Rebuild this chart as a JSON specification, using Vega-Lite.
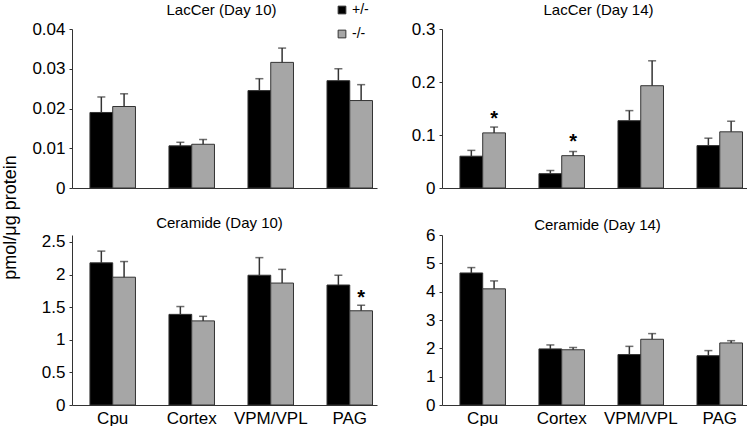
{
  "$schema": "https://vega.github.io/schema/vega-lite/v6.json",
  "padding": {"left": 1, "right": 0, "top": 2, "bottom": 0},
  "background": "white",
  "config": {
    "font": "Liberation Sans",
    "view": {"stroke": null},
    "axis": {"labelFont": "Liberation Sans", "labelFontSize": 17, "labelColor": "#000", "labelOverlap": false, "domainColor": "#333", "domainWidth": 1, "tickColor": "#333", "grid": false, "title": null},
    "title": {"font": "Liberation Sans", "fontSize": 15, "fontWeight": "normal", "color": "#000", "frame": "group", "baseline": "alphabetic"},
    "legend": {"labelFont": "Liberation Sans", "labelFontSize": 14, "labelColor": "#000", "symbolType": "square", "symbolSize": 60, "symbolStrokeColor": "#333", "symbolStrokeWidth": 1, "rowPadding": 10, "labelOffset": 3, "title": null}
  },
  "datasets": {
    "d": [
      {"panel": "p1", "region": "Cpu", "geno": "+/-", "value": 0.0190, "err": 0.0229, "star": null},
      {"panel": "p1", "region": "Cpu", "geno": "-/-", "value": 0.0205, "err": 0.0237, "star": null},
      {"panel": "p1", "region": "Cortex", "geno": "+/-", "value": 0.0106, "err": 0.0115, "star": null},
      {"panel": "p1", "region": "Cortex", "geno": "-/-", "value": 0.0110, "err": 0.0122, "star": null},
      {"panel": "p1", "region": "VPM/VPL", "geno": "+/-", "value": 0.0245, "err": 0.0275, "star": null},
      {"panel": "p1", "region": "VPM/VPL", "geno": "-/-", "value": 0.0316, "err": 0.0352, "star": null},
      {"panel": "p1", "region": "PAG", "geno": "+/-", "value": 0.0270, "err": 0.0300, "star": null},
      {"panel": "p1", "region": "PAG", "geno": "-/-", "value": 0.0220, "err": 0.0260, "star": null},
      {"panel": "p2", "region": "Cpu", "geno": "+/-", "value": 0.060, "err": 0.071, "star": null},
      {"panel": "p2", "region": "Cpu", "geno": "-/-", "value": 0.104, "err": 0.115, "star": 0.140},
      {"panel": "p2", "region": "Cortex", "geno": "+/-", "value": 0.027, "err": 0.033, "star": null},
      {"panel": "p2", "region": "Cortex", "geno": "-/-", "value": 0.061, "err": 0.069, "star": 0.097},
      {"panel": "p2", "region": "VPM/VPL", "geno": "+/-", "value": 0.127, "err": 0.146, "star": null},
      {"panel": "p2", "region": "VPM/VPL", "geno": "-/-", "value": 0.193, "err": 0.240, "star": null},
      {"panel": "p2", "region": "PAG", "geno": "+/-", "value": 0.080, "err": 0.094, "star": null},
      {"panel": "p2", "region": "PAG", "geno": "-/-", "value": 0.106, "err": 0.126, "star": null},
      {"panel": "p3", "region": "Cpu", "geno": "+/-", "value": 2.18, "err": 2.36, "star": null},
      {"panel": "p3", "region": "Cpu", "geno": "-/-", "value": 1.96, "err": 2.20, "star": null},
      {"panel": "p3", "region": "Cortex", "geno": "+/-", "value": 1.39, "err": 1.51, "star": null},
      {"panel": "p3", "region": "Cortex", "geno": "-/-", "value": 1.29, "err": 1.36, "star": null},
      {"panel": "p3", "region": "VPM/VPL", "geno": "+/-", "value": 1.99, "err": 2.26, "star": null},
      {"panel": "p3", "region": "VPM/VPL", "geno": "-/-", "value": 1.87, "err": 2.08, "star": null},
      {"panel": "p3", "region": "PAG", "geno": "+/-", "value": 1.84, "err": 1.99, "star": null},
      {"panel": "p3", "region": "PAG", "geno": "-/-", "value": 1.445, "err": 1.53, "star": 1.71},
      {"panel": "p4", "region": "Cpu", "geno": "+/-", "value": 4.66, "err": 4.85, "star": null},
      {"panel": "p4", "region": "Cpu", "geno": "-/-", "value": 4.10, "err": 4.38, "star": null},
      {"panel": "p4", "region": "Cortex", "geno": "+/-", "value": 1.98, "err": 2.12, "star": null},
      {"panel": "p4", "region": "Cortex", "geno": "-/-", "value": 1.95, "err": 2.03, "star": null},
      {"panel": "p4", "region": "VPM/VPL", "geno": "+/-", "value": 1.78, "err": 2.07, "star": null},
      {"panel": "p4", "region": "VPM/VPL", "geno": "-/-", "value": 2.32, "err": 2.52, "star": null},
      {"panel": "p4", "region": "PAG", "geno": "+/-", "value": 1.74, "err": 1.92, "star": null},
      {"panel": "p4", "region": "PAG", "geno": "-/-", "value": 2.19, "err": 2.27, "star": null}
    ]
  },
  "data": {"name": "d"},
  "columns": 2,
  "bounds": "flush",
  "spacing": {"row": 47, "column": 65},
  "resolve": {"scale": {"y": "independent"}},
  "concat": [
    {
      "title": {"text": "LacCer (Day 10)", "offset": 2.5, "dx": -3},
      "width": 305, "height": 159,
      "transform": [{"filter": "datum.panel === 'p1'"}],
      "encoding": {
        "x": {"field": "region", "type": "nominal", "sort": ["Cpu", "Cortex", "VPM/VPL", "PAG"], "scale": {"paddingInner": 0.424, "paddingOuter": 0.142, "align": 0.8}, "axis": {"labels": false, "ticks": false}},
        "xOffset": {"field": "geno", "type": "nominal", "sort": ["+/-", "-/-"], "scale": {"paddingInner": 0, "paddingOuter": 0}}
      },
      "layer": [
        {"mark": {"type": "bar", "stroke": "#333", "strokeWidth": 1},
         "encoding": {
           "y": {"field": "value", "type": "quantitative", "scale": {"domain": [0, 0.04], "nice": false}, "axis": {"values": [0, 0.01, 0.02, 0.03, 0.04], "labelOverlap": false, "format": "~g", "tickSize": 3, "labelPadding": 4, "title": "pmol/μg protein", "titleX": -53, "titleY": 188, "titleFont": "Liberation Sans", "titleFontSize": 18, "titleFontWeight": "normal", "titleColor": "#000", "titleAngle": 270, "titleAlign": "center", "titleBaseline": "bottom"}},
           "color": {"field": "geno", "type": "nominal", "sort": ["+/-", "-/-"], "scale": {"domain": ["+/-", "-/-"], "range": ["#000000", "#a6a6a6"]}, "legend": {"orient": "none", "legendX": 263, "legendY": -26}}
         }},
        {"mark": {"type": "rule", "color": "#333", "strokeWidth": 1.5}, "encoding": {"y": {"field": "value", "type": "quantitative", "axis": {"values": [0, 0.01, 0.02, 0.03, 0.04], "labelOverlap": false}}, "y2": {"field": "err"}}},
        {"mark": {"type": "tick", "color": "#333", "thickness": 1.5, "size": 8}, "encoding": {"y": {"field": "err", "type": "quantitative", "axis": {"values": [0, 0.01, 0.02, 0.03, 0.04], "labelOverlap": false}}}}
      ]
    },
    {
      "title": {"text": "LacCer (Day 14)", "offset": 2.5, "dx": 4},
      "width": 305, "height": 159,
      "transform": [{"filter": "datum.panel === 'p2'"}],
      "encoding": {
        "x": {"field": "region", "type": "nominal", "sort": ["Cpu", "Cortex", "VPM/VPL", "PAG"], "scale": {"paddingInner": 0.424, "paddingOuter": 0.142, "align": 0.8}, "axis": {"labels": false, "ticks": false}},
        "xOffset": {"field": "geno", "type": "nominal", "sort": ["+/-", "-/-"], "scale": {"paddingInner": 0, "paddingOuter": 0}}
      },
      "layer": [
        {"mark": {"type": "bar", "stroke": "#333", "strokeWidth": 1},
         "encoding": {
           "y": {"field": "value", "type": "quantitative", "scale": {"domain": [0, 0.3], "nice": false}, "axis": {"values": [0, 0.1, 0.2, 0.3], "labelOverlap": false, "format": "~g", "tickSize": 3, "labelPadding": 4}},
           "color": {"field": "geno", "type": "nominal", "sort": ["+/-", "-/-"], "scale": {"domain": ["+/-", "-/-"], "range": ["#000000", "#a6a6a6"]}, "legend": {"orient": "none", "legendX": 263, "legendY": -26}}
         }},
        {"mark": {"type": "rule", "color": "#333", "strokeWidth": 1.5}, "encoding": {"y": {"field": "value", "type": "quantitative", "axis": {"values": [0, 0.1, 0.2, 0.3], "labelOverlap": false}}, "y2": {"field": "err"}}},
        {"mark": {"type": "tick", "color": "#333", "thickness": 1.5, "size": 8}, "encoding": {"y": {"field": "err", "type": "quantitative", "axis": {"values": [0, 0.1, 0.2, 0.3], "labelOverlap": false}}}},
        {"mark": {"type": "text", "text": "*", "fontSize": 20, "fontWeight": "bold", "color": "#000", "baseline": "alphabetic", "dy": 11}, "encoding": {"y": {"field": "star", "type": "quantitative", "axis": {"values": [0, 0.1, 0.2, 0.3], "labelOverlap": false}}}}
      ]
    },
    {
      "title": {"text": "Ceramide (Day 10)", "offset": 2, "dx": -5},
      "width": 305, "height": 170,
      "transform": [{"filter": "datum.panel === 'p3'"}],
      "encoding": {
        "x": {"field": "region", "type": "nominal", "sort": ["Cpu", "Cortex", "VPM/VPL", "PAG"], "scale": {"paddingInner": 0.424, "paddingOuter": 0.142, "align": 0.8}, "axis": {"labels": true, "ticks": false, "labelAngle": 0, "labelPadding": 5}},
        "xOffset": {"field": "geno", "type": "nominal", "sort": ["+/-", "-/-"], "scale": {"paddingInner": 0, "paddingOuter": 0}}
      },
      "layer": [
        {"mark": {"type": "bar", "stroke": "#333", "strokeWidth": 1},
         "encoding": {
           "y": {"field": "value", "type": "quantitative", "scale": {"domain": [0, 2.607], "nice": false}, "axis": {"values": [0, 0.5, 1, 1.5, 2, 2.5], "labelOverlap": false, "format": "~g", "tickSize": 3, "labelPadding": 4}},
           "color": {"field": "geno", "type": "nominal", "sort": ["+/-", "-/-"], "scale": {"domain": ["+/-", "-/-"], "range": ["#000000", "#a6a6a6"]}, "legend": {"orient": "none", "legendX": 263, "legendY": -26}}
         }},
        {"mark": {"type": "rule", "color": "#333", "strokeWidth": 1.5}, "encoding": {"y": {"field": "value", "type": "quantitative", "axis": {"values": [0, 0.5, 1, 1.5, 2, 2.5], "labelOverlap": false}}, "y2": {"field": "err"}}},
        {"mark": {"type": "tick", "color": "#333", "thickness": 1.5, "size": 8}, "encoding": {"y": {"field": "err", "type": "quantitative", "axis": {"values": [0, 0.5, 1, 1.5, 2, 2.5], "labelOverlap": false}}}},
        {"mark": {"type": "text", "text": "*", "fontSize": 20, "fontWeight": "bold", "color": "#000", "baseline": "alphabetic", "dy": 11}, "encoding": {"y": {"field": "star", "type": "quantitative", "axis": {"values": [0, 0.5, 1, 1.5, 2, 2.5], "labelOverlap": false}}}}
      ]
    },
    {
      "title": {"text": "Ceramide (Day 14)", "offset": -7, "dx": 3},
      "width": 305, "height": 170,
      "transform": [{"filter": "datum.panel === 'p4'"}],
      "encoding": {
        "x": {"field": "region", "type": "nominal", "sort": ["Cpu", "Cortex", "VPM/VPL", "PAG"], "scale": {"paddingInner": 0.424, "paddingOuter": 0.142, "align": 0.8}, "axis": {"labels": true, "ticks": false, "labelAngle": 0, "labelPadding": 5}},
        "xOffset": {"field": "geno", "type": "nominal", "sort": ["+/-", "-/-"], "scale": {"paddingInner": 0, "paddingOuter": 0}}
      },
      "layer": [
        {"mark": {"type": "bar", "stroke": "#333", "strokeWidth": 1},
         "encoding": {
           "y": {"field": "value", "type": "quantitative", "scale": {"domain": [0, 6], "nice": false}, "axis": {"values": [0, 1, 2, 3, 4, 5, 6], "labelOverlap": false, "format": "~g", "tickSize": 3, "labelPadding": 4}},
           "color": {"field": "geno", "type": "nominal", "sort": ["+/-", "-/-"], "scale": {"domain": ["+/-", "-/-"], "range": ["#000000", "#a6a6a6"]}, "legend": {"orient": "none", "legendX": 263, "legendY": -26}}
         }},
        {"mark": {"type": "rule", "color": "#333", "strokeWidth": 1.5}, "encoding": {"y": {"field": "value", "type": "quantitative", "axis": {"values": [0, 1, 2, 3, 4, 5, 6], "labelOverlap": false}}, "y2": {"field": "err"}}},
        {"mark": {"type": "tick", "color": "#333", "thickness": 1.5, "size": 8}, "encoding": {"y": {"field": "err", "type": "quantitative", "axis": {"values": [0, 1, 2, 3, 4, 5, 6], "labelOverlap": false}}}}
      ]
    }
  ]
}
